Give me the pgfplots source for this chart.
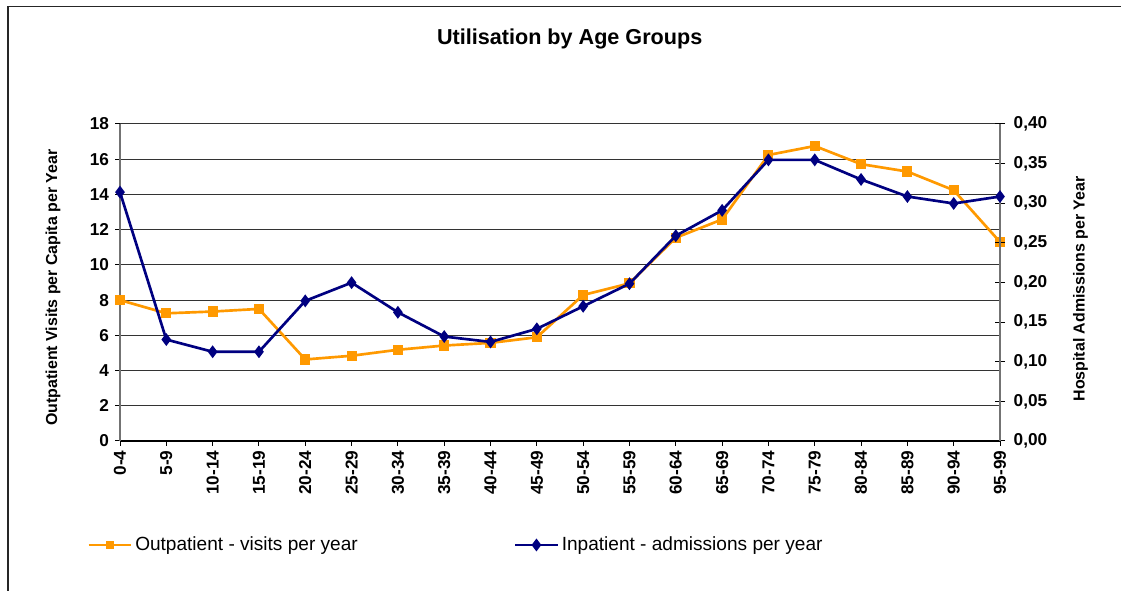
\documentclass[border=0pt]{standalone}
\usepackage{pgfplots}
\pgfplotsset{compat=1.18}
\usepackage{fontspec}
\setmainfont{Liberation Sans}
\definecolor{orng}{HTML}{FF9900}
\definecolor{navyb}{HTML}{000080}
\pgfplotstableread{
x out
0 8.0
1 7.25
2 7.35
3 7.5
4 4.63
5 4.84
6 5.18
7 5.42
8 5.57
9 5.89
10 8.29
11 8.95
12 11.54
13 12.58
14 16.24
15 16.75
16 15.72
17 15.3
18 14.24
19 11.3
}\outdata
\pgfplotstableread{
x inp
0 0.314
1 0.128
2 0.1126
3 0.1126
4 0.1768
5 0.1998
6 0.1624
7 0.1318
8 0.125
9 0.1415
10 0.170
11 0.1985
12 0.259
13 0.291
14 0.3547
15 0.3547
16 0.330
17 0.3085
18 0.2997
19 0.3085
}\indata
\newcommand{\tickfont}{\fontsize{12.9}{14}\selectfont\bfseries}
\newcommand{\labfont}{\fontsize{11.95}{13}\selectfont\bfseries}
\begin{document}
\begin{tikzpicture}
\useasboundingbox (0,0) rectangle (840.75pt,443.25pt);
\draw[black!85, line width=1.2pt] (6pt,-1pt) -- (6pt,438.5pt) -- (842pt,438.5pt);
\begin{axis}[
  at={(90pt,112.5pt)}, anchor=south west, scale only axis,
  width=660pt, height=237.75pt,
  xmin=0, xmax=19, ymin=0, ymax=18,
  clip=false,
  xtick={0,...,19},
  xticklabels={0-4,5-9,10-14,15-19,20-24,25-29,30-34,35-39,40-44,45-49,50-54,55-59,60-64,65-69,70-74,75-79,80-84,85-89,90-94,95-99},
  ytick={0,2,...,18},
  axis x line*=bottom, axis y line*=left,
  x axis line style={black, line width=0.9pt},
  y axis line style={black!55, line width=0.9pt},
  tick align=outside, major tick length=3.75pt,
  tick style={black, line width=0.75pt},
  ymajorgrids, grid style={black!80, line width=0.75pt},
  ticklabel style={font=\tickfont},
  /pgf/number format/assume math mode=true,
  xticklabel style={rotate=90, anchor=east, xshift=0pt},
  yticklabel style={xshift=-1pt},
  ylabel={Outpatient Visits per Capita per Year},
  ylabel style={font=\labfont, at={(axis description cs:-0.0761,0.484)}, rotate=0, anchor=center},
  title={Utilisation by Age Groups},
  title style={font=\fontsize{16.2}{18}\selectfont\bfseries, at={(axis description cs:0.511,1.274)}, anchor=center, yshift=-7.5pt},
]
\addplot[orng, line width=2pt, mark=square*, mark size=2.8pt, mark options={solid, fill=orng}] table[x=x,y=out] {\outdata};
\end{axis}
\begin{axis}[
  at={(90pt,112.5pt)}, anchor=south west, scale only axis,
  width=660pt, height=237.75pt,
  xmin=0, xmax=19, ymin=0, ymax=0.4,
  clip=false,
  axis x line=none, axis y line*=right,
  y axis line style={black!55, line width=0.9pt},
  ytick={0,0.05,0.1,0.15,0.2,0.25,0.3,0.35,0.4},
  tick align=center, major tick length=7.5pt,
  tick style={black, line width=0.75pt},
  yticklabel style={font=\tickfont, xshift=3pt, /pgf/number format/.cd, use comma, fixed, fixed zerofill, precision=2, assume math mode=true},
  ylabel={Hospital Admissions per Year},
  ylabel style={font=\labfont, at={(axis description cs:1.0915,0.48)}, rotate=0, anchor=center},
  legend columns=2,
  legend style={at={(axis description cs:-0.0375,-0.328)}, anchor=west, draw=none, fill=none,
    font=\fontsize{14.3}{16}\selectfont, inner sep=0pt,
    /tikz/every even column/.append style={column sep=115pt}},
  legend image code/.code={\draw[mark repeat=2, mark phase=2] plot coordinates {(0pt,0pt) (16pt,0pt) (32pt,0pt)};},
]
\addlegendimage{orng, line width=2pt, mark=square*, mark size=2.2pt, mark options={solid, fill=orng}}
\addlegendentry{Outpatient - visits per year}
\addplot[navyb, line width=2pt, mark=diamond*, mark size=3.2pt, mark options={solid, fill=navyb}] table[x=x,y=inp] {\indata};
\addlegendentry{Inpatient - admissions per year}
\end{axis}
\end{tikzpicture}
\end{document}
